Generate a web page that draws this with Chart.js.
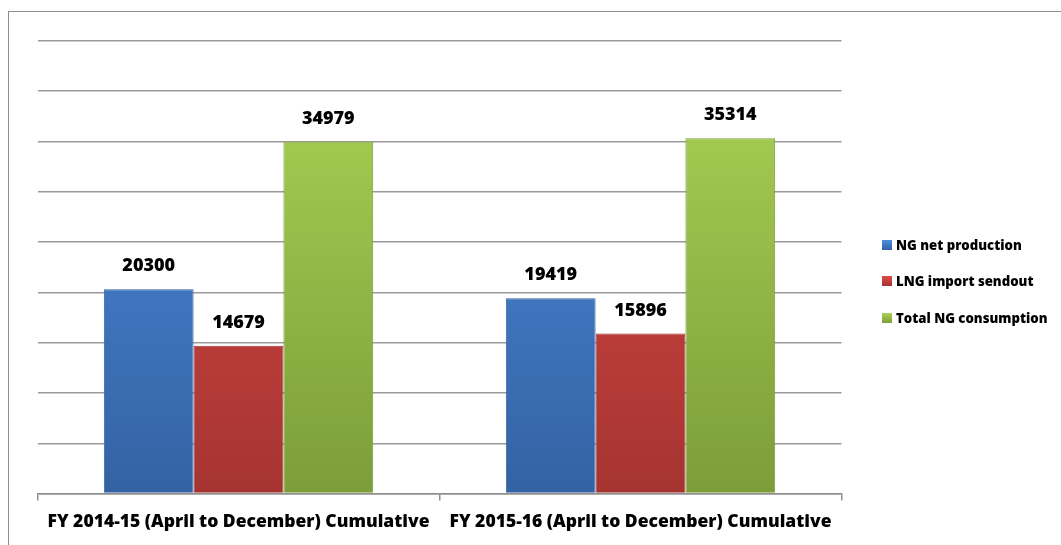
<!DOCTYPE html>
<html>
<head>
<meta charset="utf-8">
<script src="https://cdn.jsdelivr.net/npm/chart.js@4.4.1/dist/chart.umd.min.js"></script>
<style>
  html, body { margin: 0; padding: 0; background: #fff; overflow: hidden; }
  #wrap { position: relative; width: 1061px; height: 545px; }
  #frame {
    position: absolute; left: 8px; top: 11px; width: 1100px; height: 600px;
    border: 1.5px solid #8e8e8e;
  }
  #chart { position: absolute; left: 0; top: 0; }
  #legend {
    position: absolute; left: 882px; top: 236px;
    font: 800 13.2px "Open Sans", sans-serif; color: #000;
  }
  #legend .item { height: 36.3px; display: flex; align-items: flex-start; white-space: nowrap; }
  #legend .box { width: 10px; height: 10px; margin: 4px 4px 0 0; }
</style>
</head>
<body>
<div id="wrap">
  <div id="frame"></div>
  <canvas id="chart" width="1061" height="545"></canvas>
  <div id="legend"></div>
</div>
<script>
const categories = [
  "FY 2014-15 (April to December) Cumulative",
  "FY 2015-16 (April to December) Cumulative"
];
const seriesNames = ["NG net production", "LNG import sendout", "Total NG consumption"];
const ngProduction = [20300, 19419];
const lngSendout = [14679, 15896];
const totalConsumption = [34979, 35314];
const yTicks = { min: 0, max: 45000, step: 5000 };

// top / bottom shades of each series
const shades = [
  ["#4b8edf", "#3462a3"],
  ["#df4b49", "#a53431"],
  ["#abd456", "#7c9d39"]
];

function gradientFor(i) {
  return (ctx) => {
    const area = ctx.chart.chartArea;
    if (!area) return shades[i][0];
    const g = ctx.chart.ctx.createLinearGradient(0, area.top, 0, area.bottom);
    g.addColorStop(0, shades[i][0]);
    g.addColorStop(1, shades[i][1]);
    return g;
  };
}

const valueLabels = {
  id: "valueLabels",
  afterDatasetsDraw(chart) {
    const ctx = chart.ctx;
    ctx.save();
    ctx.font = "800 18px 'Open Sans', sans-serif";
    ctx.fillStyle = "#000";
    ctx.textAlign = "center";
    ctx.textBaseline = "middle";
    chart.data.datasets.forEach((ds, i) => {
      chart.getDatasetMeta(i).data.forEach((bar, j) => {
        ctx.fillText(String(ds.data[j]), bar.x, bar.y - 23);
      });
    });
    ctx.restore();
  }
};

const seriesData = [ngProduction, lngSendout, totalConsumption];

new Chart(document.getElementById("chart"), {
  type: "bar",
  data: {
    labels: categories,
    datasets: seriesData.map((d, i) => ({
      label: seriesNames[i],
      data: d,
      backgroundColor: gradientFor(i),
      borderColor: shades[i][1],
      borderWidth: 1,
      categoryPercentage: 0.67,
      barPercentage: 1
    }))
  },
  options: {
    responsive: false,
    animation: false,
    layout: { padding: { left: 37.5, top: 40.7, right: 219.5, bottom: 0 } },
    plugins: { legend: { display: false }, tooltip: { enabled: false } },
    scales: {
      x: {
        afterFit: (s) => { s.height = 51.4; },
        grid: { drawOnChartArea: false, tickLength: 7, color: "#8e8e8e", lineWidth: 1.5 },
        border: { color: "#8e8e8e", width: 1.5 },
        ticks: { color: "#000", font: { family: "'Open Sans'", weight: "800", size: 17.5 }, padding: 11, maxRotation: 0 }
      },
      y: {
        min: yTicks.min,
        max: yTicks.max,
        afterFit: (s) => { s.width = 0; },
        ticks: { stepSize: yTicks.step, display: false },
        grid: { color: "#9a9a9a", lineWidth: 1.5, drawTicks: false },
        border: { display: false }
      }
    }
  },
  plugins: [valueLabels]
});

const legend = document.getElementById("legend");
seriesNames.forEach((name, i) => {
  const item = document.createElement("div");
  item.className = "item";
  item.innerHTML = `<div class="box" style="background:linear-gradient(${shades[i][0]}, ${shades[i][1]})"></div><span>${name}</span>`;
  legend.appendChild(item);
});
</script>
</body>
</html>
